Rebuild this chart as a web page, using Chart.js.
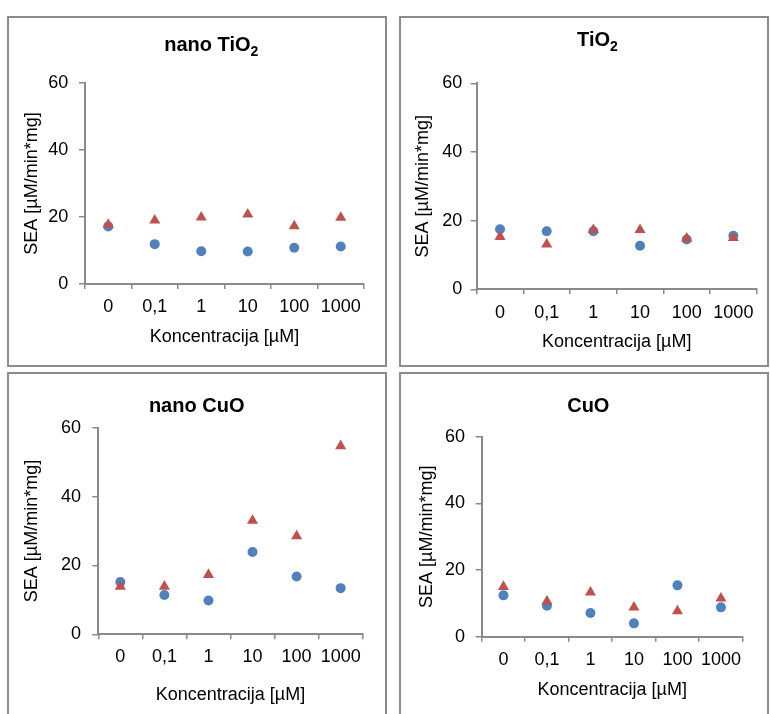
<!DOCTYPE html>
<html>
<head>
<meta charset="utf-8">
<script src="https://cdn.jsdelivr.net/npm/chart.js@4"></script>
<style>
  html, body { margin: 0; padding: 0; background: #fff; width: 770px; height: 714px; overflow: hidden; }
  .panel { position: absolute; box-sizing: border-box; border: 2px solid #8c8c8c; background: #fff; overflow: hidden; }
  .panel canvas { display: block; }
  .ttl { position: absolute; width: 240px; text-align: center; font: bold 20px 'Liberation Sans', Arial, sans-serif;
         line-height: 24px; color: #000; white-space: nowrap; }
  .ttl sub { font-size: 14px; vertical-align: baseline; position: relative; top: 5px; }
</style>
</head>
<body>
<script>
// Concentrations on the x axis
const categories = ['0', '0,1', '1', '10', '100', '1000'];

// Specific enzyme activity, SEA [µM/min*mg]
const nanoTiO2Series1 = [17.2, 11.9, 9.8, 9.7, 10.8, 11.2];
const nanoTiO2Series2 = [17.7, 19.0, 19.9, 20.8, 17.3, 19.8];

const tiO2Series1 = [17.5, 16.9, 16.9, 12.7, 14.5, 15.6];
const tiO2Series2 = [15.3, 13.1, 17.3, 17.3, 14.8, 15.0];

const nanoCuOSeries1 = [15.2, 11.4, 9.8, 23.9, 16.8, 13.4];
const nanoCuOSeries2 = [13.9, 13.9, 17.3, 33.0, 28.5, 54.7];

const cuOSeries1 = [12.4, 9.3, 7.1, 4.0, 15.4, 8.8];
const cuOSeries2 = [15.0, 10.6, 13.3, 8.8, 7.7, 11.5];

const yAxisMax = 60;
const yAxisStep = 20;

const xTitle = 'Koncentracija [µM]';
const yTitle = 'SEA [µM/min*mg]';

// Panel frames and plot geometry
const panels = [
  { title: 'nano TiO<sub>2</sub>', s1: nanoTiO2Series1, s2: nanoTiO2Series2,
    box: [7, 16, 380, 351], cv: [376, 347], pad: { left: 12.2, top: 65, right: 21, bottom: 17.2 },
    yW: 63.8, xH: 63.8, yPad: 10.7, xPad: 7.2, tc: [211.3, 43.5] },
  { title: 'TiO<sub>2</sub>', s1: tiO2Series1, s2: tiO2Series2,
    box: [399, 16, 370, 351], cv: [366, 347], pad: { left: 11.2, top: 65.3, right: 10.3, bottom: 12.5 },
    yW: 64.5, xH: 63.2, yPad: 8.4, xPad: 8.2, tc: [597.5, 39.2] },
  { title: 'nano CuO', s1: nanoCuOSeries1, s2: nanoCuOSeries2,
    box: [7, 372, 380, 360], cv: [376, 340], pad: { left: 12.7, top: 53.7, right: 22.3, bottom: 8.2 },
    yW: 76.6, xH: 71.5, yPad: 11.3, xPad: 6.6, tc: [196.7, 405] },
  { title: 'CuO', s1: cuOSeries1, s2: cuOSeries2,
    box: [399, 372, 370, 360], cv: [366, 340], pad: { left: 15.7, top: 62.7, right: 24.3, bottom: 13.2 },
    yW: 65, xH: 64.1, yPad: 10.7, xPad: 7.5, tc: [588.3, 405.3] }
];

const FONT = "'Liberation Sans', Arial, sans-serif";
const AXIS_GREY = '#8a8a8a';
const BLUE = '#4F81BD';
const RED = '#C0504D';

panels.forEach(p => {
  const div = document.createElement('div');
  div.className = 'panel';
  div.style.left = p.box[0] + 'px';
  div.style.top = p.box[1] + 'px';
  div.style.width = p.box[2] + 'px';
  div.style.height = p.box[3] + 'px';
  const canvas = document.createElement('canvas');
  canvas.width = p.cv[0];
  canvas.height = p.cv[1];
  canvas.style.width = p.cv[0] + 'px';
  canvas.style.height = p.cv[1] + 'px';
  div.appendChild(canvas);
  document.body.appendChild(div);

  const t = document.createElement('div');
  t.className = 'ttl';
  t.innerHTML = p.title;
  t.style.left = (p.tc[0] - 120) + 'px';
  t.style.top = (p.tc[1] - 12) + 'px';
  document.body.appendChild(t);

  new Chart(canvas, {
    type: 'line',
    data: {
      labels: categories,
      datasets: [
        { label: 'Serija 1', data: p.s1, showLine: false, order: 1,
          pointStyle: 'circle', pointRadius: 5, pointHoverRadius: 5,
          backgroundColor: BLUE, borderColor: BLUE, pointBorderWidth: 0 },
        { label: 'Serija 2', data: p.s2, showLine: false, order: 0,
          pointStyle: 'triangle', pointRadius: 6.4, pointHoverRadius: 6.4,
          backgroundColor: RED, borderColor: RED, pointBorderWidth: 0 }
      ]
    },
    options: {
      responsive: false,
      animation: false,
      events: [],
      layout: { padding: p.pad },
      plugins: { legend: { display: false }, title: { display: false }, tooltip: { enabled: false } },
      scales: {
        x: {
          type: 'category',
          offset: true,
          grid: { display: true, offset: true, drawOnChartArea: false, drawTicks: true,
                  tickLength: 5, color: AXIS_GREY, lineWidth: 1.5 },
          border: { display: true, color: AXIS_GREY, width: 2 },
          ticks: { color: '#000', font: { family: FONT, size: 18 }, padding: p.xPad,
                   maxRotation: 0, autoSkip: false },
          title: { display: true, text: xTitle, color: '#000', font: { family: FONT, size: 18 },
                   padding: { top: 0, bottom: 0 } },
          afterFit: s => { s.height = p.xH; }
        },
        y: {
          min: 0, max: yAxisMax,
          grid: { display: true, drawOnChartArea: false, drawTicks: true,
                  tickLength: 6, color: AXIS_GREY, lineWidth: 1.5 },
          border: { display: true, color: AXIS_GREY, width: 2 },
          ticks: { stepSize: yAxisStep, color: '#000', font: { family: FONT, size: 18 }, padding: p.yPad },
          title: { display: true, text: yTitle, color: '#000', font: { family: FONT, size: 18 },
                   padding: { top: 0, bottom: 0 } },
          afterFit: s => { s.width = p.yW; }
        }
      }
    }
  });
});
</script>
</body>
</html>
